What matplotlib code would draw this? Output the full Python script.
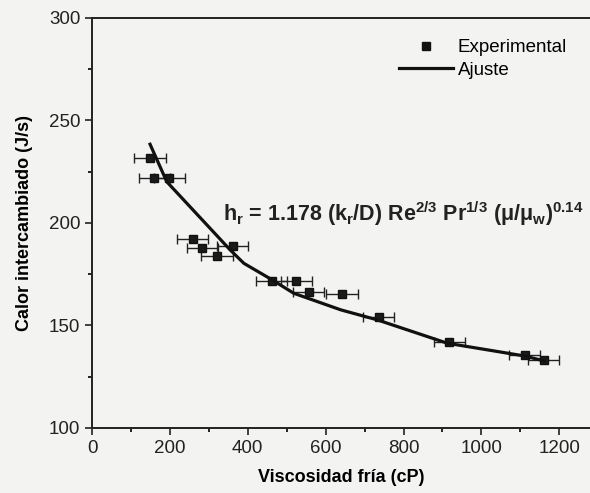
import matplotlib
matplotlib.use('Agg')
import matplotlib.pyplot as plt
from matplotlib.lines import Line2D
from matplotlib.ticker import MultipleLocator

plt.rcParams['font.family'] = ['Liberation Sans', 'DejaVu Sans']
plt.rcParams['mathtext.fontset'] = 'custom'
plt.rcParams['mathtext.rm'] = 'Liberation Sans'
plt.rcParams['mathtext.it'] = 'Liberation Sans:italic'
plt.rcParams['mathtext.bf'] = 'Liberation Sans:bold'

# experimental points (cP, J/s)
visc = [149, 160, 198, 259, 283, 321, 361, 461, 525, 557, 642, 736, 918, 1111, 1160]
calor = [231.6, 221.8, 222.1, 192.0, 187.7, 184.0, 188.9, 171.7, 171.7, 166.5,
         165.2, 154.3, 141.8, 135.6, 133.2]
visc_err = [40, 40, 40, 40, 40, 40, 40, 40, 40, 40, 40, 40, 40, 40, 40]

# fitted curve
fit_visc = [149, 192, 355, 390, 463, 518, 639, 733, 913, 1111, 1161]
fit_calor = [238.4, 220.1, 186.8, 180.3, 172.2, 165.7, 157.6, 152.7, 141.3, 135.1, 132.7]

bg = '#f3f3f2'
fig = plt.figure(figsize=(5.9, 4.93), dpi=100, facecolor=bg)
ax = fig.add_axes([0.156, 0.132, 0.846, 0.8315])
ax.set_facecolor(bg)

ax.errorbar(visc, calor, xerr=visc_err, fmt='s', color='#111111', ms=6,
            mfc='#1a1a1a', mec='#111111', ecolor='#222222', elinewidth=1.0,
            capsize=3.5, capthick=1.0, zorder=3)
ax.plot(fit_visc, fit_calor, color='#111111', lw=2.3, zorder=4)

ax.set_xlim(0, 1282)
ax.set_ylim(100, 300)
ax.xaxis.set_major_locator(MultipleLocator(200))
ax.xaxis.set_minor_locator(MultipleLocator(100))
ax.yaxis.set_major_locator(MultipleLocator(50))
ax.yaxis.set_minor_locator(MultipleLocator(25))
ax.tick_params(which='major', direction='out', length=5, width=1.2, labelsize=13.5,
               top=False, right=False, colors='#222222')
ax.tick_params(which='minor', direction='out', length=3, width=1.2, top=False, right=False)
for s in ax.spines.values():
    s.set_linewidth(1.4)
    s.set_color('#222222')

ax.set_xlabel('Viscosidad fría (cP)', fontsize=13, fontweight='bold', labelpad=9)
ax.set_ylabel('Calor intercambiado (J/s)', fontsize=13, fontweight='bold', labelpad=11)

h_exp = Line2D([], [], ls='none', marker='s', ms=6, color='#111111')
h_fit = Line2D([], [], color='#111111', lw=2.3)
ax.legend([h_exp, h_fit], ['Experimental', 'Ajuste'], loc='upper right', frameon=False,
          fontsize=13.5, handlelength=2.9, handletextpad=0.25, labelspacing=0.3,
          bbox_to_anchor=(0.985, 0.99))

ax.text(0.262, 0.505,
        r'h$_\mathregular{r}$ = 1.178 (k$_\mathregular{r}$/D) Re$^\mathregular{2/3}$'
        r' Pr$^\mathregular{1/3}$ (μ/μ$_\mathregular{w}$)$^\mathregular{0.14}$',
        transform=ax.transAxes, fontsize=15.5, fontweight='bold', color='#222222')

fig.savefig('out.png', dpi=100, facecolor=bg)
